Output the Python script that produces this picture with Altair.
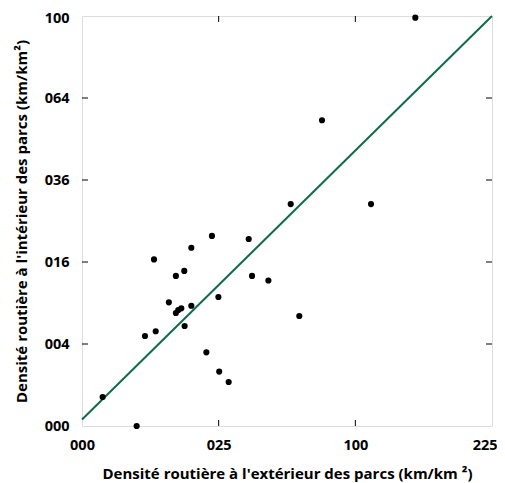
import altair as alt
import pandas as pd

# Data (km/km²)
outside = [148.7, 77.1, 58.3, 111.8, 22.6, 37.2, 16.0, 6.94, 14.0, 11.8, 38.7, 46.5,
           24.9, 10.1, 16.0, 13.2, 12.4, 11.8, 63.2, 14.1, 7.27, 5.31, 20.7, 25.2,
           28.8, 0.57, 4.0]
inside = [99.2, 55.6, 29.3, 29.3, 21.5, 20.8, 18.9, 16.5, 14.3, 13.4, 13.4, 12.6,
          9.9, 9.1, 8.6, 8.24, 8.0, 7.6, 7.2, 5.95, 5.34, 4.82, 3.23, 1.76,
          1.15, 0.50, 0.0]

line_x = [0, 225]
line_y = [0.025, 100]

x_ticks = [0, 25, 100, 225]
y_ticks = [0, 4, 16, 36, 64, 100]
x_inner = [25, 100]
y_inner = [4, 16, 36, 64]

FONT = "Open Sans"
W = 410
H = 410

pts = pd.DataFrame({"x": outside, "y": inside})
ln = pd.DataFrame({"x": line_x, "y": line_y})
xt = pd.DataFrame({"t": x_inner})
yt = pd.DataFrame({"t": y_inner})

xscale = alt.Scale(type="sqrt", domain=[0, 225], nice=False, zero=False)
yscale = alt.Scale(type="sqrt", domain=[0, 100], nice=False, zero=False)

xaxis = alt.Axis(values=x_ticks, format="03d", title="Densité routière à l'extérieur des parcs (km/km ²)",
                 grid=False, domain=False, ticks=False, labelPadding=12, titlePadding=15,
                 labelFlush=False, labelOverlap=False,
                 labelAlign={"condition": {"test": "datum.value >= 225", "value": "right"}, "value": "center"},
                 labelOffset={"condition": {"test": "datum.value >= 225", "value": 5}, "value": 0},
                 labelFont=FONT, labelFontSize=14.5, labelFontWeight="bold", labelColor="black",
                 titleFont=FONT, titleFontSize=15, titleFontWeight="bold", titleColor="black")
yaxis = alt.Axis(values=y_ticks, format="03d", title="Densité routière à l'intérieur des parcs (km/km²)",
                 grid=False, domain=False, ticks=False, labelPadding=13, titlePadding=15,
                 labelFlush=False, labelOverlap=False,
                 labelOffset={"condition": {"test": "datum.value >= 100", "value": 2}, "value": 0},
                 labelFont=FONT, labelFontSize=14.5, labelFontWeight="bold", labelColor="black",
                 titleFont=FONT, titleFontSize=15, titleFontWeight="bold", titleColor="black")

points = alt.Chart(pts).mark_circle(size=38, color="black", opacity=1, clip=False).encode(
    x=alt.X("x:Q", scale=xscale, axis=xaxis),
    y=alt.Y("y:Q", scale=yscale, axis=yaxis),
)

diag = alt.Chart(ln).mark_line(color="#0f6b4f", strokeWidth=2).encode(
    x=alt.X("x:Q", scale=xscale),
    y=alt.Y("y:Q", scale=yscale),
)

TL = 6
bottom_t = alt.Chart(xt).mark_rule(color="black", strokeWidth=1).encode(
    x=alt.X("t:Q", scale=xscale), y=alt.value(H), y2=alt.value(H - TL))
top_t = alt.Chart(xt).mark_rule(color="black", strokeWidth=1).encode(
    x=alt.X("t:Q", scale=xscale), y=alt.value(0), y2=alt.value(TL))
left_t = alt.Chart(yt).mark_rule(color="black", strokeWidth=1).encode(
    y=alt.Y("t:Q", scale=yscale), x=alt.value(0), x2=alt.value(TL))
right_t = alt.Chart(yt).mark_rule(color="black", strokeWidth=1).encode(
    y=alt.Y("t:Q", scale=yscale), x=alt.value(W), x2=alt.value(W - TL))

chart = alt.layer(diag, bottom_t, top_t, left_t, right_t, points).properties(
    width=W, height=H,
    autosize=alt.AutoSizeParams(type="none"),
    padding={"left": 74, "top": 8, "right": 5, "bottom": 57},
).configure_view(stroke="black", strokeWidth=2.5).configure(background="white")

chart.save("out.html", embed_options={"renderer": "svg", "actions": False})
